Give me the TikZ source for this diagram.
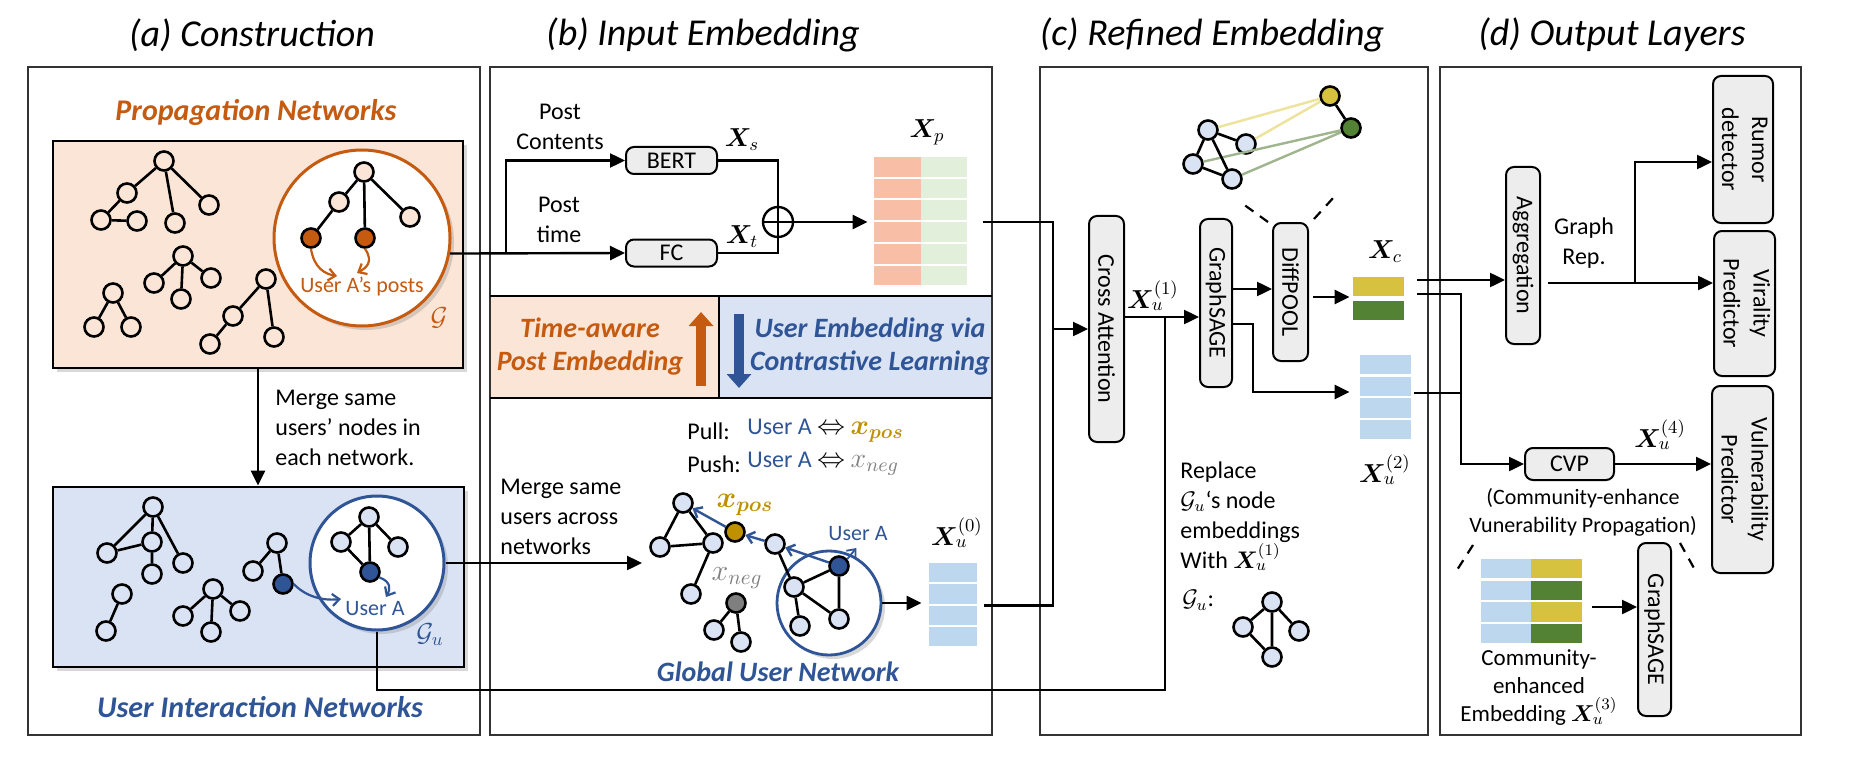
\RequirePackage{fix-cm}
\documentclass[tikz,border=0pt]{standalone}
\usepackage{amsmath,bm,graphicx}
\usepackage{fontspec}
\setmainfont{Carlito}
\usetikzlibrary{arrows.meta,shadows}
\definecolor{orng}{HTML}{C55A11}
\definecolor{peach}{HTML}{FBE5D6}
\definecolor{dblue}{HTML}{2F5597}
\definecolor{lblue}{HTML}{DAE3F3}
\definecolor{eblue}{HTML}{BDD7EE}
\definecolor{salmon}{HTML}{F8BFA6}
\definecolor{lgreen}{HTML}{E2EFDA}
\definecolor{cyel}{HTML}{D6C23F}
\definecolor{cgrn}{HTML}{548235}
\definecolor{gold}{HTML}{BF9000}
\definecolor{boxgray}{HTML}{EDEDED}
\definecolor{ylight}{HTML}{EDE39B}
\definecolor{glight}{HTML}{9FB58E}
\definecolor{negray}{HTML}{7F7F7F}
\begin{document}
\begin{tikzpicture}[x=0.5pt,y=-0.5pt,
 panel/.style={draw=black!80,line width=1.1pt},
 gbox/.style={draw,fill=boxgray,rounded corners=4pt,line width=1pt,inner sep=0pt,font=\fontsize{12}{15}\selectfont},
 gn/.style={circle,draw,line width=1.3pt,inner sep=0pt,minimum size=9.5pt},
 ge/.style={line width=1.3pt},
 ln/.style={line width=1.2pt},
 arr/.style={line width=1.2pt,-{Triangle[length=7.5pt,width=7pt]}},
 barb/.style={line width=0.9pt,-{Straight Barb[length=3.5pt,width=6pt]}},
 txt/.style={inner sep=0pt,font=\fontsize{12}{15}\selectfont},
 stxt/.style={inner sep=0pt,font=\fontsize{11}{14}\selectfont},
 mlab/.style={inner sep=0pt,font=\fontsize{13}{15}\selectfont},
 xlab/.style={inner sep=0pt,font=\fontsize{15}{16}\selectfont},
 ttl/.style={inner sep=0pt,font=\fontsize{19}{22}\selectfont\itshape},
 big/.style={inner sep=0pt,font=\fontsize{15}{17}\selectfont\bfseries\itshape},
 band/.style={inner sep=0pt,align=center,font=\fontsize{14}{16.5}\selectfont\bfseries\itshape},
 sh/.style={drop shadow={shadow xshift=2pt,shadow yshift=-2pt,opacity=0.3}},
 dsh/.style={line width=1.1pt,dash pattern=on 5pt off 4pt},
]
\useasboundingbox (0,0) rectangle (1855,775);
\fill[white] (0,0) rectangle (1855,775);

%================ (a) =================
\draw[panel] (28,67) rectangle (480,735);
\node[ttl] (ta) at (252,35) {(a) Construction};
\node[big,text=orng] (tprop) at (256,112) {Propagation Networks};
\node[draw,line width=1.4pt,fill=peach,minimum width=205pt,minimum height=113.5pt,inner sep=0pt,sh] (pbox) at (258,254.5) {};
\begin{scope}[every node/.style={gn,fill=peach}]
\node (p1r) at (164,161) {}; \node (p1a) at (127,193) {}; \node (p1b) at (101,220) {};
\node (p1c) at (137,221) {}; \node (p1d) at (175,223) {}; \node (p1e) at (209,205) {};
\node (p2r) at (183,256) {}; \node (p2a) at (154,283) {}; \node (p2b) at (181,299) {}; \node (p2c) at (211,278) {};
\node (p3r) at (113,293) {}; \node (p3a) at (94,327) {}; \node (p3b) at (131,327) {};
\node (p4r) at (266,279) {}; \node (p4a) at (233,316) {}; \node (p4b) at (210,344) {}; \node (p4c) at (274,337) {};
\end{scope}
\draw[ge] (p1r)--(p1a) (p1a)--(p1b) (p1b)--(p1c) (p1r)--(p1d) (p1r)--(p1e);
\draw[ge] (p2r)--(p2a) (p2r)--(p2b) (p2r)--(p2c);
\draw[ge] (p3r)--(p3a) (p3r)--(p3b);
\draw[ge] (p4r)--(p4a) (p4a)--(p4b) (p4r)--(p4c);
\node[circle,draw=orng,line width=1.5pt,fill=white,minimum size=88pt,inner sep=0pt,sh] (pcirc) at (362,238) {};
\begin{scope}[every node/.style={gn,fill=peach}]
\node (c1r) at (364,172) {}; \node (c1a) at (339,202) {}; \node (c1d) at (410,217) {};
\node[fill=orng] (c1b) at (311,238) {}; \node[fill=orng] (c1c) at (365,238) {};
\end{scope}
\draw[ge] (c1r)--(c1a) (c1a)--(c1b) (c1r)--(c1c) (c1r)--(c1d);
\draw[barb,orng,line width=1.1pt] (c1b.south) .. controls (314,268) and (325,274) .. (337,276);
\draw[barb,orng,line width=1.1pt] (c1c.south) .. controls (374,262) and (366,268) .. (357,273);
\node[stxt,text=orng] (uap) at (362,287) {User A’s posts};
\node[mlab,text=orng] (gG) at (439,318) {$\mathcal{G}$};

\node[draw,line width=1.4pt,fill=lblue,minimum width=205.5pt,minimum height=90pt,inner sep=0pt,sh] (ubox) at (258.5,577) {};
\draw[arr] (pbox.south) -- (pbox.south |- ubox.north);
\node[txt,anchor=west,align=left] (merge1) at (275,428) {Merge same\\users’ nodes in\\each network.};

\begin{scope}[every node/.style={gn,fill=lblue}]
\node (u1r) at (153,507) {}; \node (u1a) at (152,542) {}; \node (u1b) at (107,553) {};
\node (u1c) at (183,563) {}; \node (u1d) at (152,574) {};
\node (u2a) at (122,594) {}; \node (u2b) at (106,631) {};
\node (u3r) at (213,589) {}; \node (u3a) at (183,616) {}; \node (u3b) at (211,632) {}; \node (u3c) at (240,611) {};
\node (u4r) at (277,543) {}; \node (u4a) at (253,571) {}; \node[fill=dblue] (u4b) at (283,584) {};
\end{scope}
\draw[ge] (u1r)--(u1a) (u1r)--(u1b) (u1b)--(u1a) (u1r)--(u1c) (u1a)--(u1d);
\draw[ge] (u2a)--(u2b);
\draw[ge] (u3r)--(u3a) (u3r)--(u3b) (u3r)--(u3c);
\draw[ge] (u4r)--(u4a) (u4r)--(u4b);
\node[circle,draw=dblue,line width=1.5pt,fill=white,minimum size=67pt,inner sep=0pt,sh] (ucirc) at (377,563) {};
\begin{scope}[every node/.style={gn,fill=lblue}]
\node (v1r) at (369,517) {}; \node (v1a) at (341,542) {}; \node (v1b) at (398,547) {};
\node[fill=dblue] (v1c) at (370,572) {};
\end{scope}
\draw[ge] (v1r)--(v1a) (v1r)--(v1c) (v1r)--(v1b) (v1a)--(v1c);
\draw[barb,dblue,line width=1.1pt] (u4b.east) .. controls (305,596) and (322,601) .. (341,599);
\draw[barb,dblue,line width=1.1pt] (v1c.-30) .. controls (392,582) and (390,590) .. (386,597);
\node[stxt,text=dblue] (uA1) at (375,609) {User A};
\node[mlab,text=dblue] (gGu) at (430,635) {$\mathcal{G}_u$};
\node[big,text=dblue] (tuser) at (260,707) {User Interaction Networks};

%================ (b) =================
\fill[peach] (490,296) rectangle (719,398);
\fill[lblue] (719,296) rectangle (992,398);
\draw[panel] (490,67) rectangle (992,735);
\draw[ln] (490,296) -- (992,296);
\draw[ln] (490,398) -- (992,398);
\draw[ln] (719,296) -- (719,398);
\node[ttl] (tb) at (703,35) {(b) Input Embedding};
\draw[line width=5pt,orng,-{Triangle[length=7pt,width=12pt]}] (701,386) -- (701,312);
\draw[line width=5pt,dblue,-{Triangle[length=7pt,width=12pt]}] (739,314) -- (739,388);
\node[band,text=orng] (tta) at (590,347) {Time-aware\\Post Embedding};
\node[band,text=dblue] (tue) at (870,347) {User Embedding via\\Contrastive Learning};

\node[gbox,minimum width=45.5pt,minimum height=13.5pt] (bert) at (671.5,160.5) {BERT};
\node[gbox,minimum width=45.5pt,minimum height=13.5pt] (fc) at (671.5,253) {FC};
\node[txt,align=center] (pc) at (560,127) {Post\\Contents};
\node[txt,align=center] (pt) at (559,220) {Post\\time};
\coordinate (j0) at (506,253);
\draw[arr] (pcirc.-10) -- (fc.west);
\draw[arr] (j0) |- (bert.west);
\node[circle,draw,line width=1.2pt,minimum size=15pt,inner sep=0pt] (oplus) at (778,222) {};
\draw[line width=1.2pt] (oplus.north) -- (oplus.south) (oplus.west) -- (oplus.east);
\draw[ln] (bert.east) -| (oplus.north);
\draw[ln] (fc.east) -| (oplus.south);
\node[mlab] (lxs) at (742,140) {$\bm{X}_s$};
\node[mlab] (lxt) at (742,237) {$\bm{X}_t$};
\foreach \i in {0,...,5}{
  \pgfmathsetmacro\ya{157+21.7*\i}
  \fill[salmon] (874,\ya) rectangle (921,\ya+19.7);
  \fill[lgreen] (921,\ya) rectangle (967,\ya+19.7);
}
\node[inner sep=0pt,minimum width=46.5pt,minimum height=65pt] (xp) at (920.5,222) {};
\node[mlab] (lxp) at (927,132) {$\bm{X}_p$};
\draw[arr,shorten >=3pt] (oplus.east) -- (xp.west);

\node[txt,anchor=west] (pull) at (687,431) {Pull:};
\node[txt,anchor=west] (pullr) at (747,431) {\textcolor{dblue}{User A} {\fontsize{14}{15}\selectfont$\Leftrightarrow$} \fontsize{14}{14}\selectfont$\color{gold}\bm{x_{pos}}$};
\node[txt,anchor=west] (push) at (687,464) {Push:};
\node[txt,anchor=west] (pushr) at (747,464) {\textcolor{dblue}{User A} {\fontsize{14}{15}\selectfont$\Leftrightarrow$} \fontsize{14}{14}\selectfont$\color{negray}x_{neg}$};
\node[txt,anchor=west,align=left] (merge2) at (500,517) {Merge same\\users across\\networks};
\coordinate (gin) at (642,565);
\draw[arr] (ucirc.east) -- (gin |- ucirc.east);

\node[circle,draw=dblue,line width=1.4pt,fill=white,minimum size=52pt,inner sep=0pt,sh] (gcirc) at (829,603) {};
\begin{scope}[every node/.style={gn,fill=lblue}]
\node (g1) at (683,503) {}; \node (g2) at (660,547) {}; \node (g3) at (713,543) {}; \node (g4) at (691,594) {};
\node[fill=gold] (gpos) at (735,532) {};
\node (g5) at (775,544) {};
\node[fill=dblue] (gUA) at (839,566) {};
\node (g6) at (794,587) {}; \node (g7) at (800,626) {}; \node (g8) at (839,619) {};
\node[fill=negray] (gneg) at (736,603) {};
\node (g9) at (714,630) {}; \node (g10) at (741,642) {};
\end{scope}
\draw[ge] (g1)--(g2) (g2)--(g3) (g1)--(g3) (g3)--(g4);
\draw[ge] (g5)--(g6) (g6)--(gUA) (gUA)--(g8) (g6)--(g8) (g6)--(g7);
\draw[ge] (gneg)--(g9) (gneg)--(g10);
\draw[barb,dblue,line width=1.2pt] (gUA) -- (g5);
\draw[barb,dblue,line width=1.2pt] (g5) -- (gpos);
\draw[barb,dblue,line width=1.2pt] (gpos) -- (g1);
\draw[barb,dblue] (gUA.40) -- ++(9,-11);
\node[stxt,text=dblue] (uA2) at (858,534) {User A};
\node[xlab,text=gold] (lpos) at (745,505) {$\bm{x_{pos}}$};
\node[xlab,text=negray] (lneg) at (737,578) {$x_{neg}$};
\node[band,text=dblue] (tglob) at (778,672) {Global User Network};
\foreach \i in {0,...,3}{
  \pgfmathsetmacro\ya{563+21.4*\i}
  \fill[eblue] (929,\ya) rectangle (977,\ya+19.2);
}
\node[inner sep=0pt,minimum width=24pt,minimum height=42.5pt] (xu0) at (953,605.5) {};
\node[mlab] (lxu0) at (957,533) {$\bm{X}_u^{(0)}$};
\draw[arr,shorten >=3.5pt] (gcirc.east) -- (xu0.west |- gcirc.east);

%================ (c) =================
\draw[panel] (1040,67) rectangle (1428,735);
\node[ttl] (tc) at (1212,35) {(c) Refined Embedding};
\node[gbox,minimum width=17.5pt,minimum height=113pt] (ca) at (1106.5,329) {\rotatebox{-90}{Cross Attention}};
\coordinate (jca) at (1053,329);
\draw[ln,shorten <=8pt] (xp.east) -| (jca);
\draw[ln,shorten <=3.5pt] (xu0.east) -| (jca);
\draw[arr] (jca) -- (ca.west);
\node[gbox,minimum width=16pt,minimum height=84pt] (gs) at (1216,303) {\rotatebox{-90}{GraphSAGE}};
\node[gbox,minimum width=17.5pt,minimum height=69pt] (dp) at (1290.5,292) {\rotatebox{-90}{DiffPOOL}};
\node[mlab] (lxu1) at (1153,296) {$\bm{X}_u^{(1)}$};
\draw[arr] (ca.east |- 0,317) -- (gs.west |- 0,317);
\coordinate (j1) at (1165,317);
\draw[ln] (ucirc.south) |- (j1 |- 0,690) -- (j1);
\draw[arr] (gs.east |- 0,289) -- (dp.west |- 0,289);
\fill[cyel] (1353,277) rectangle (1404,296);
\fill[cgrn] (1353,301) rectangle (1404,320);
\node[inner sep=0pt,minimum width=25.5pt,minimum height=21.5pt] (xc) at (1378.5,298.5) {};
\node[mlab] (lxc) at (1385,252) {$\bm{X}_c$};
\draw[arr,shorten <=2pt,shorten >=1.5pt] (dp.east |- 0,297) -- (xc.west |- 0,297);
\foreach \i in {0,...,3}{
  \pgfmathsetmacro\ya{355+21.6*\i}
  \fill[eblue] (1360,\ya) rectangle (1411,\ya+19.4);
}
\node[inner sep=0pt,minimum width=25.5pt,minimum height=43pt] (xu2) at (1385.5,398) {};
\node[mlab] (lxu2) at (1385,470) {$\bm{X}_u^{(2)}$};
\draw[arr,shorten >=5pt] (gs.east |- 0,324) -- (1253,324) |- (xu2.west |- 0,392);
\draw[dsh] (dp.north west) ++(-4,0) -- (1243,204);
\draw[dsh] (dp.north east) ++(5,-3) -- (1334,197);
\begin{scope}[every node/.style={gn,fill=lblue}]
\node (da) at (1208,130) {}; \node (db) at (1246,144) {}; \node (dc) at (1193,164) {}; \node (dd) at (1232,179) {};
\node[fill=cyel] (dY) at (1330,96) {}; \node[fill=cgrn] (dG) at (1351,128) {};
\end{scope}
\draw[ylight,line width=1.2pt] (da) -- (dY) (db) -- (dY);
\draw[glight,line width=1.2pt] (dc) -- (dG) (dd) -- (dG);
\draw[ge] (da)--(db) (da)--(dc) (da)--(dd) (dc)--(dd) (dY)--(dG);
\node[txt,anchor=north west,align=left] (repl) at (1180,461) {Replace\\$\mathcal{G}_u$‘s node\\embeddings\\With $\bm{X}_u^{(1)}$};
\node[txt,anchor=west] (gul) at (1182,600) {$\mathcal{G}_u$:};
\begin{scope}[every node/.style={gn,fill=lblue}]
\node (sa) at (1272,602) {}; \node (sb) at (1243,627) {}; \node (sc) at (1299,631) {}; \node (sd) at (1272,657) {};
\end{scope}
\draw[ge] (sa)--(sb) (sa)--(sd) (sa)--(sc) (sb)--(sd);

%================ (d) =================
\draw[panel] (1440,67) rectangle (1801,735);
\node[ttl] (td) at (1612,35) {(d) Output Layers};
\node[gbox,minimum width=17pt,minimum height=88.5pt] (ag) at (1523,255.5) {\rotatebox{-90}{Aggregation}};
\node[gbox,minimum width=30pt,minimum height=73.5pt] (rd) at (1743,149.5) {\rotatebox{-90}{\begin{tabular}{@{}c@{}}Rumor\\detector\end{tabular}}};
\node[gbox,minimum width=30.5pt,minimum height=72.5pt] (vp) at (1744.5,303.5) {\rotatebox{-90}{\begin{tabular}{@{}c@{}}Virality\\Predictor\end{tabular}}};
\node[gbox,minimum width=30.5pt,minimum height=93.5pt] (vul) at (1742.5,479.5) {\rotatebox{-90}{\begin{tabular}{@{}c@{}}Vulnerability\\Predictor\end{tabular}}};
\node[gbox,minimum width=44.5pt,minimum height=16pt] (cvp) at (1569.5,464) {CVP};
\node[gbox,minimum width=16.5pt,minimum height=86.5pt] (gs2) at (1654.5,629.5) {\rotatebox{-90}{GraphSAGE}};
\draw[arr,shorten <=6.5pt] (xc.east |- 0,280) -- (ag.west |- 0,280);
\draw[arr,shorten <=6.5pt] (xc.east |- 0,294) -| (1461,464) -- (cvp.west);
\draw[ln,shorten <=1.5pt] (xu2.east |- 0,393) -- (1461,393);
\coordinate (j2) at (1635,283);
\draw[ln,shorten <=3.5pt] (ag.east |- 0,283) -- (j2);
\draw[arr] (j2) |- (rd.west |- 0,162);
\draw[arr] (j2) -- (vp.west |- 0,283);
\node[txt,align=center] (grep) at (1584,243) {Graph\\Rep.};
\draw[arr] (cvp.east) -- (vul.west |- cvp.east);
\node[mlab] (lxu4) at (1660,435) {$\bm{X}_u^{(4)}$};
\node[stxt,align=center] (cvpt) at (1583,512) {(Community-enhance\\Vunerability Propagation)};
\draw[dsh] (1473,545) -- (1457,570);
\draw[dsh] (1680,543) -- (1695,570);
\foreach \i/\c in {0/cyel,1/cgrn,2/cyel,3/cgrn}{
  \pgfmathsetmacro\ya{559+21.6*\i}
  \fill[eblue] (1481,\ya) rectangle (1531,\ya+19.4);
  \fill[\c] (1531,\ya) rectangle (1582,\ya+19.4);
}
\node[inner sep=0pt,minimum width=50.5pt,minimum height=43pt] (ceb) at (1531.5,602) {};
\draw[arr,shorten <=5pt] (ceb.east |- 0,607) -- (gs2.west |- 0,607);
\node[stxt,align=center,font=\fontsize{11.5}{14}\selectfont] (cet) at (1539,688) {Community-\\enhanced\\Embedding $\bm{X}_u^{(3)}$};
\end{tikzpicture}
\end{document}
